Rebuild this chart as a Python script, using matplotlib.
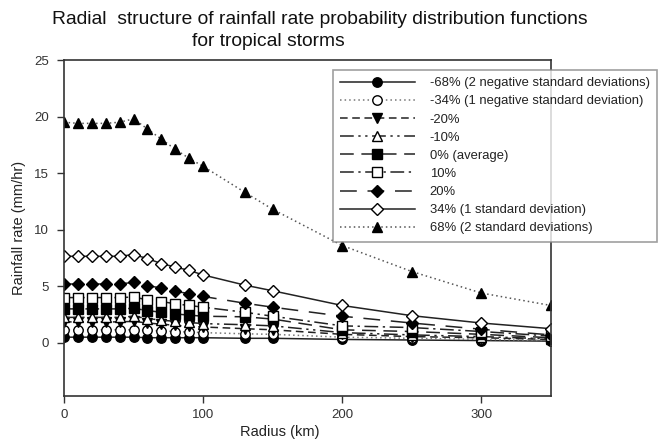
import matplotlib
matplotlib.use("Agg")
import matplotlib.pyplot as plt

plt.rcParams['font.family'] = ['Liberation Sans', 'DejaVu Sans']

radius_km = [0, 10, 20, 30, 40, 50, 60, 70, 80, 90, 100, 130, 150, 200, 250, 300, 350]

neg68 = [0.5, 0.5, 0.5, 0.5, 0.5, 0.5, 0.45, 0.45, 0.45, 0.45, 0.45, 0.4, 0.4, 0.3, 0.25, 0.2, 0.15]
neg34 = [1.15, 1.15, 1.15, 1.15, 1.15, 1.15, 1.1, 1.05, 1.0, 0.95, 0.9, 0.8, 0.75, 0.5, 0.4, 0.3, 0.2]
neg20 = [1.85, 1.85, 1.85, 1.85, 1.85, 1.9, 1.75, 1.65, 1.55, 1.45, 1.4, 1.25, 1.15, 0.75, 0.55, 0.45, 0.3]
neg10 = [2.25, 2.25, 2.25, 2.25, 2.25, 2.35, 2.15, 2.0, 1.9, 1.8, 1.7, 1.6, 1.5, 0.9, 0.7, 0.55, 0.35]
avg0 = [3.0, 3.0, 3.0, 3.0, 3.0, 3.05, 2.85, 2.7, 2.55, 2.45, 2.35, 2.3, 2.1, 1.15, 1.0, 0.75, 0.45]
pos10 = [4.0, 4.0, 4.0, 4.0, 4.0, 4.05, 3.8, 3.65, 3.45, 3.3, 3.15, 2.7, 2.35, 1.5, 1.35, 1.0, 0.6]
pos20 = [5.2, 5.2, 5.2, 5.2, 5.2, 5.35, 5.05, 4.85, 4.55, 4.35, 4.1, 3.5, 3.15, 2.35, 1.75, 1.2, 0.7]
pos34 = [7.65, 7.65, 7.65, 7.65, 7.65, 7.8, 7.45, 7.0, 6.7, 6.4, 6.0, 5.1, 4.6, 3.3, 2.4, 1.75, 1.25]
pos68 = [19.5, 19.4, 19.4, 19.4, 19.5, 19.8, 18.9, 18.0, 17.1, 16.3, 15.6, 13.3, 11.8, 8.6, 6.3, 4.4, 3.3]

labels = [
    "-68% (2 negative standard deviations)",
    "-34% (1 negative standard deviation)",
    "-20%",
    "-10%",
    "0% (average)",
    "10%",
    "20%",
    "34% (1 standard deviation)",
    "68% (2 standard deviations)",
]
series = [neg68, neg34, neg20, neg10, avg0, pos10, pos20, pos34, pos68]

# line style, marker, marker face colour, line colour
styles = [
    ('-', 'o', 'black', '#222222'),
    ((0, (1, 2)), 'o', 'white', '#777777'),
    ((0, (5, 3)), 'v', 'black', '#222222'),
    ((0, (9, 3, 1.5, 3, 1.5, 3)), '^', 'white', '#222222'),
    ((0, (9, 5)), 's', 'black', '#222222'),
    ((0, (9, 3, 1.5, 3)), 's', 'white', '#222222'),
    ((0, (11, 7)), 'D', 'black', '#222222'),
    ('-', 'D', 'white', '#222222'),
    ((0, (1, 2)), '^', 'black', '#555555'),
]

fig = plt.figure(figsize=(6.61, 4.42), dpi=100)
ax = fig.add_axes([64 / 661, 1 - 396 / 442, (551 - 64) / 661, (396 - 60) / 442])

for vals, lab, (ls, mk, mfc, lc) in zip(series, labels, styles):
    ms = 6.5 if mk == 'D' else 6.8
    ax.plot(radius_km, vals, linestyle=ls, color=lc, linewidth=1.1,
            marker=mk, markersize=ms, markerfacecolor=mfc,
            markeredgecolor='black', markeredgewidth=1.0, label=lab)

ax.set_xlim(0, 350)
ax.set_ylim(-4.7, 25)
ax.set_xticks([0, 100, 200, 300])
ax.set_yticks([0, 5, 10, 15, 20, 25])
ax.tick_params(axis='both', direction='out', length=5, width=1.0,
               colors='#333333', labelsize=9.5)
ax.tick_params(axis='x', pad=4)
ax.tick_params(axis='y', pad=6)
for side in ['left', 'bottom', 'top', 'right']:
    ax.spines[side].set_color('#333333')
    ax.spines[side].set_linewidth(1.2)
ax.set_xlabel("Radius (km)", fontsize=10.5, color='#222222')
ax.xaxis.set_label_coords((280 - 64) / 487, -0.085)
ax.set_ylabel("Rainfall rate (mm/hr)", fontsize=10.5, color='#222222', labelpad=6)

fig.text(52 / 661, 1 - 19 / 442,
         "Radial  structure of rainfall rate probability distribution functions",
         fontsize=13.9, ha='left', va='center', color='#111111')
fig.text(192 / 661, 1 - 41 / 442, "for tropical storms",
         fontsize=13.9, ha='left', va='center', color='#111111')

leg = ax.legend(loc='upper left', bbox_to_anchor=(333 / 661, 1 - 70 / 442),
                bbox_transform=fig.transFigure, fontsize=9.4, frameon=True,
                fancybox=False, handlelength=5.7, handletextpad=1.15,
                labelspacing=0.46, borderpad=0.55, borderaxespad=0)
leg.get_frame().set_edgecolor('#888888')
leg.get_frame().set_linewidth(1.2)
for t in leg.get_texts():
    t.set_color('#222222')

fig.savefig("out.png", dpi=100)
